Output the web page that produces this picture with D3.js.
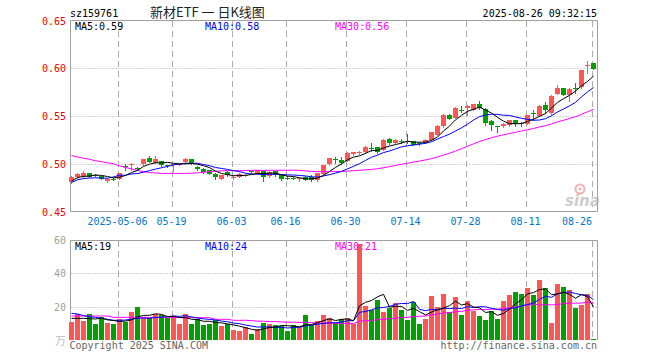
<!DOCTYPE html>
<html><head><meta charset="utf-8">
<script src="https://cdn.jsdelivr.net/npm/d3@7"></script>
<style>html,body{margin:0;padding:0;background:#fff;}svg{display:block;}</style>
</head><body><svg id="c" width="660" height="360"></svg>
<script>
// ---------- data ----------
const dates = [
"2025-04-21","2025-04-22","2025-04-23","2025-04-24","2025-04-25","2025-04-28","2025-04-29","2025-04-30",
"2025-05-06","2025-05-07","2025-05-08","2025-05-09","2025-05-12","2025-05-13","2025-05-14","2025-05-15","2025-05-16",
"2025-05-19","2025-05-20","2025-05-21","2025-05-22","2025-05-23","2025-05-26","2025-05-27","2025-05-28","2025-05-29","2025-05-30",
"2025-06-03","2025-06-04","2025-06-05","2025-06-06","2025-06-09","2025-06-10","2025-06-11","2025-06-12","2025-06-13",
"2025-06-16","2025-06-17","2025-06-18","2025-06-19","2025-06-20","2025-06-23","2025-06-24","2025-06-25","2025-06-26","2025-06-27",
"2025-06-30","2025-07-01","2025-07-02","2025-07-03","2025-07-04","2025-07-07","2025-07-08","2025-07-09","2025-07-10","2025-07-11",
"2025-07-14","2025-07-15","2025-07-16","2025-07-17","2025-07-18","2025-07-21","2025-07-22","2025-07-23","2025-07-24","2025-07-25",
"2025-07-28","2025-07-29","2025-07-30","2025-07-31","2025-08-01","2025-08-04","2025-08-05","2025-08-06","2025-08-07","2025-08-08",
"2025-08-11","2025-08-12","2025-08-13","2025-08-14","2025-08-15","2025-08-18","2025-08-19","2025-08-20","2025-08-21","2025-08-22",
"2025-08-25","2025-08-26"];

const open = [
0.4808,0.4860,0.4860,0.4899,0.4883,0.4868,0.4823,0.4840,0.4844,0.4972,
0.4988,0.4958,0.4993,0.5062,0.5010,0.5024,0.4985,0.4988,0.4990,0.5017,
0.5045,0.4969,0.4948,0.4930,0.4896,0.4844,0.4917,0.4847,0.4865,0.4876,
0.4920,0.4899,0.4923,0.4871,0.4923,0.4878,0.4855,0.4852,0.4845,0.4865,
0.4865,0.4826,0.4889,0.4993,0.5050,0.5038,0.5034,0.5097,0.5122,0.5121,
0.5162,0.5173,0.5149,0.5260,0.5219,0.5237,0.5243,0.5235,0.5221,0.5219,
0.5253,0.5305,0.5392,0.5514,0.5479,0.5568,0.5583,0.5566,0.5628,0.5573,
0.5451,0.5394,0.5392,0.5409,0.5454,0.5422,0.5420,0.5533,0.5503,0.5618,
0.5531,0.5732,0.5791,0.5722,0.5792,0.5802,0.6030,0.6052];
const high = [
0.4875,0.4900,0.4925,0.4905,0.4890,0.4872,0.4840,0.4850,0.4908,0.4995,
0.5005,0.4962,0.5048,0.5080,0.5080,0.5030,0.4992,0.5000,0.5000,0.5055,
0.5050,0.4975,0.4955,0.4935,0.4900,0.4885,0.4922,0.4870,0.4900,0.4890,
0.4928,0.4935,0.4928,0.4920,0.4928,0.4882,0.4870,0.4858,0.4852,0.4870,
0.4880,0.4902,0.4990,0.5058,0.5075,0.5070,0.5118,0.5125,0.5135,0.5185,
0.5215,0.5178,0.5258,0.5270,0.5262,0.5260,0.5310,0.5240,0.5230,0.5258,
0.5335,0.5405,0.5520,0.5518,0.5590,0.5600,0.5612,0.5630,0.5660,0.5580,
0.5455,0.5396,0.5425,0.5460,0.5460,0.5440,0.5510,0.5559,0.5612,0.5650,
0.5715,0.5825,0.5795,0.5790,0.5845,0.5985,0.6080,0.6058];
const low = [
0.4795,0.4855,0.4855,0.4860,0.4870,0.4840,0.4810,0.4828,0.4840,0.4930,
0.4935,0.4945,0.4990,0.5015,0.5008,0.4975,0.4970,0.4920,0.4985,0.5012,
0.4995,0.4935,0.4905,0.4890,0.4845,0.4838,0.4872,0.4840,0.4860,0.4868,
0.4905,0.4895,0.4820,0.4865,0.4872,0.4830,0.4836,0.4842,0.4822,0.4825,
0.4820,0.4820,0.4885,0.4985,0.5010,0.4995,0.5030,0.5092,0.5100,0.5115,
0.5130,0.5115,0.5140,0.5212,0.5215,0.5220,0.5215,0.5195,0.5195,0.5215,
0.5248,0.5300,0.5388,0.5465,0.5475,0.5545,0.5515,0.5560,0.5578,0.5410,
0.5357,0.5330,0.5388,0.5400,0.5395,0.5392,0.5415,0.5461,0.5498,0.5530,
0.5525,0.5728,0.5718,0.5652,0.5740,0.5798,0.5954,0.5990];
const close = [
0.4865,0.4895,0.4906,0.4865,0.4880,0.4844,0.4836,0.4836,0.4904,0.4968,
0.4993,0.4950,0.5045,0.5021,0.5045,0.4982,0.4980,0.4993,0.4995,0.5045,
0.5000,0.4941,0.4917,0.4896,0.4860,0.4878,0.4878,0.4865,0.4896,0.4880,
0.4917,0.4930,0.4865,0.4917,0.4878,0.4836,0.4852,0.4850,0.4848,0.4830,
0.4826,0.4899,0.4985,0.5055,0.5042,0.5010,0.5115,0.5121,0.5125,0.5173,
0.5158,0.5121,0.5253,0.5219,0.5253,0.5233,0.5225,0.5200,0.5219,0.5253,
0.5330,0.5400,0.5514,0.5472,0.5583,0.5564,0.5607,0.5625,0.5583,0.5427,
0.5409,0.5390,0.5420,0.5454,0.5420,0.5418,0.5506,0.5529,0.5607,0.5566,
0.5711,0.5798,0.5722,0.5784,0.5790,0.5982,0.6034,0.5993];
const volume = [
11.0,15.4,11.4,15.6,9.6,13.6,10.2,9.6,12.4,11.0,
16.8,19.8,13.6,13.0,15.4,15.0,13.4,14.0,9.6,15.6,
9.6,12.4,9.0,9.6,12.0,8.4,9.4,6.0,5.6,7.6,
3.6,6.4,10.2,9.6,9.0,8.4,5.6,9.0,7.6,15.0,
9.0,11.4,15.0,13.0,10.0,12.4,13.0,9.6,57.6,20.4,
18.0,24.0,17.0,19.4,22.4,18.0,12.0,23.0,9.6,12.6,
26.4,19.6,27.6,17.0,25.8,15.0,23.6,17.6,14.4,12.0,
17.4,12.6,23.4,27.0,29.0,27.8,31.4,27.0,36.0,31.4,
10.2,33.6,32.0,30.0,19.4,21.0,27.8,0.8];

const ma5Head  = [0.4819,0.4855,0.4868,0.4871];
const ma10Head = [0.4805,0.4832,0.4845,0.4850,0.4853,0.4850,0.4848,0.4862,0.4880];
const ma30Head = [0.5086,0.5071,0.5057,0.5047,0.5031,0.5021,0.5010,0.5000,0.4977,0.4961,
                  0.4946,0.4930,0.4917,0.4909,0.4904,0.4899,0.4899,0.4899,0.4899,0.4899,
                  0.4901,0.4905,0.4911,0.4917,0.4922,0.4925,0.4928,0.4928,0.4928];
const volMa5Head  = [13.0,13.0,13.0,12.8];
const volMa10Head = [16.0,15.6,14.6,14.0,13.6,13.0,12.4,11.8,11.8];
const volMa30Head = [14.4,14.4,14.4,14.4,14.4,14.4,14.4,13.6,13.6,13.6,
                     13.6,13.6,13.6,13.6,13.6,13.6,13.6,13.6,13.4,13.4,
                     13.4,13.4,13.4,13.4,12.4,12.4,12.4,11.8,11.8];

const priceTicks = [0.65,0.60,0.55,0.50,0.45];
const priceTickLabels = ["0.65","0.60","0.55","0.50","0.45"];
const volTicks = [60,40,20];
const xTickDates = ["2025-05-06","2025-05-19","2025-06-03","2025-06-16","2025-06-30","2025-07-14","2025-07-28","2025-08-11","2025-08-26"];
const xTickLabels = ["2025-05-06","05-19","06-03","06-16","06-30","07-14","07-28","08-11","08-26"];
const maNames = ["MA5","MA10","MA30"];
const priceMaLabels = ["0.59","0.58","0.56"];
const volMaLabels = ["19","24","21"];

// ---------- setup ----------
const svg = d3.select("#c");
const MONO = "'DejaVu Sans Mono', 'Liberation Mono', monospace";
const RED = "#ff5555", GREEN = "#00a000", GRID = "#aaaaaa", FRAME = "#a0a0a0";
const maColors = ["#000000","#0000ff","#ff00ff"];

const x = d3.scaleBand().domain(dates).range([68.5, 596.5]);
const cx = d => x(d) + 3;
const y = d3.scaleLinear().domain([0.45, 0.65]).range([211.5, 20.5]);
const yv = d3.scaleLinear().domain([0, 60]).range([340, 240]);
const L = 70.5, R = 597.5;

function movingAvg(arr, n, head) {
  return arr.map((v, i) => i < n - 1 ? head[i] : d3.mean(arr.slice(i - n + 1, i + 1)));
}

// ---------- grids ----------
const g = svg.append("g");
// horizontal dotted
[0.60,0.55,0.50].forEach(t => {
  const yy = Math.round(y(t)) + 0.5;
  g.append("line").attr("x1", L).attr("x2", R).attr("y1", yy).attr("y2", yy)
   .attr("stroke", GRID).attr("stroke-dasharray", "1,2");
});
[40,20].forEach(t => {
  const yy = Math.round(yv(t)) + 0.5;
  g.append("line").attr("x1", L).attr("x2", R).attr("y1", yy).attr("y2", yy)
   .attr("stroke", GRID).attr("stroke-dasharray", "1,2");
});
// vertical dashed
xTickDates.forEach(d => {
  const xx = cx(d) - 1;
  g.append("line").attr("x1", xx).attr("x2", xx).attr("y1", 21).attr("y2", 211)
   .attr("stroke", GRID).attr("stroke-dasharray", "6,4");
  g.append("line").attr("x1", xx).attr("x2", xx).attr("y1", 241).attr("y2", 340)
   .attr("stroke", GRID).attr("stroke-dasharray", "6,4");
});

// sina watermark
const wm = svg.append("g");
wm.append("circle").attr("cx", 580).attr("cy", 189).attr("r", 4.5)
  .attr("fill", "none").attr("stroke", "#f3b0b0").attr("stroke-width", 2);
wm.append("circle").attr("cx", 580).attr("cy", 189).attr("r", 1.5).attr("fill", "#f3b0b0");
wm.append("text").attr("x", 565).attr("y", 206).text("sina")
  .attr("font-family", "'DejaVu Sans', sans-serif").attr("font-weight", "bold")
  .attr("font-style", "italic").attr("font-size", 15).attr("fill", "#cccccc");

// ---------- frames ----------
const fr = svg.append("g").attr("stroke", FRAME).attr("fill", "none");
fr.append("path").attr("d", `M${L},211.5V20.5H${R}V211.5H${L}`);
fr.append("path").attr("d", `M${L},340V240.5H${R}V340`);

// ---------- candles ----------
const idx = d3.range(dates.length);
const cg = svg.append("g");
idx.forEach(i => {
  const up = close[i] >= open[i];
  const col = up ? RED : GREEN;
  const xc = cx(dates[i]);
  cg.append("line").attr("x1", xc).attr("x2", xc)
    .attr("y1", Math.round(y(high[i]))).attr("y2", Math.round(y(low[i])) + 1)
    .attr("stroke", col);
  const top = Math.round(y(Math.max(open[i], close[i])));
  const bot = Math.round(y(Math.min(open[i], close[i])));
  cg.append("rect").attr("x", xc - 2.5).attr("y", top)
    .attr("width", 5).attr("height", Math.max(1, bot - top)).attr("fill", col);
});

// ---------- volume bars ----------
const vg = svg.append("g");
idx.forEach(i => {
  const col = close[i] >= open[i] ? RED : GREEN;
  const top = Math.round(yv(volume[i]));
  vg.append("rect").attr("x", cx(dates[i]) - 2.5).attr("y", top)
    .attr("width", 5).attr("height", Math.max(1, 340 - top)).attr("fill", col);
});

// ---------- MA lines ----------
const priceMAs = [movingAvg(close, 5, ma5Head), movingAvg(close, 10, ma10Head), movingAvg(close, 30, ma30Head)];
const volMAs = [movingAvg(volume, 5, volMa5Head), movingAvg(volume, 10, volMa10Head), movingAvg(volume, 30, volMa30Head)];
const lineP = d3.line().x(i => cx(dates[i]));
[2,1,0].forEach(k => {
  svg.append("path").datum(idx)
    .attr("d", lineP.y(i => y(priceMAs[k][i]))(idx))
    .attr("fill", "none").attr("stroke", maColors[k]).attr("stroke-width", 1);
});
[2,1,0].forEach(k => {
  svg.append("path").datum(idx)
    .attr("d", d3.line().x(i => cx(dates[i])).y(i => yv(volMAs[k][i]))(idx))
    .attr("fill", "none").attr("stroke", maColors[k]).attr("stroke-width", 1);
});

// ---------- axes labels ----------
const tg = svg.append("g").attr("font-family", MONO).attr("font-size", 10);
priceTicks.forEach((t, j) => {
  tg.append("text").attr("x", 66).attr("y", y(t) + 4).attr("text-anchor", "end")
    .attr("fill", "#ee0000").text(priceTickLabels[j]);
});
volTicks.forEach(t => {
  tg.append("text").attr("x", 66).attr("y", yv(t) + 4).attr("text-anchor", "end")
    .attr("fill", "#a0a0a0").text(t);
});
tg.append("text").attr("x", 66).attr("y", 345).attr("text-anchor", "end")
  .attr("font-family", "'Noto Sans CJK SC', sans-serif").attr("font-size", 11)
  .attr("fill", "#c0c0c0").text("万");

const xAxis = d3.axisBottom(x).tickValues(xTickDates)
  .tickFormat(d => xTickLabels[xTickDates.indexOf(d)]).tickSize(0).tickPadding(6.4);
const ax = svg.append("g").attr("transform", "translate(-2,211.5)").call(xAxis);
ax.select(".domain").remove();
ax.selectAll("text").attr("font-family", MONO).attr("font-size", 10).attr("fill", "#0077cc");
ax.selectAll(".tick").filter(d => d === "2025-08-26").select("text")
  .attr("text-anchor", "end").attr("x", 0.5);

// ---------- legends ----------
maNames.forEach((n, k) => {
  tg.append("text").attr("x", 75 + 130 * k).attr("y", 30).attr("fill", maColors[k])
    .text(n + ":" + priceMaLabels[k]);
  tg.append("text").attr("x", 75 + 130 * k).attr("y", 249.5).attr("fill", maColors[k])
    .text(n + ":" + volMaLabels[k]);
});

// ---------- header / footer ----------
tg.append("text").attr("x", 70).attr("y", 17).attr("fill", "#000").text("sz159761");
tg.append("text").attr("x", 597).attr("y", 17).attr("text-anchor", "end").attr("fill", "#000")
  .text("2025-08-26 09:32:15");
svg.append("text").attr("x", 150).attr("y", 17)
  .attr("font-family", "'Noto Sans CJK SC', sans-serif").attr("font-size", 13)
  .attr("fill", "#222").text("新材ETF 一 日K线图");
tg.append("text").attr("x", 69.5).attr("y", 349).attr("fill", "#666").text("Copyright 2025 SINA.COM");
tg.append("text").attr("x", 597).attr("y", 349).attr("text-anchor", "end").attr("fill", "#666")
  .text("http://finance.sina.com.cn");
</script></body></html>
